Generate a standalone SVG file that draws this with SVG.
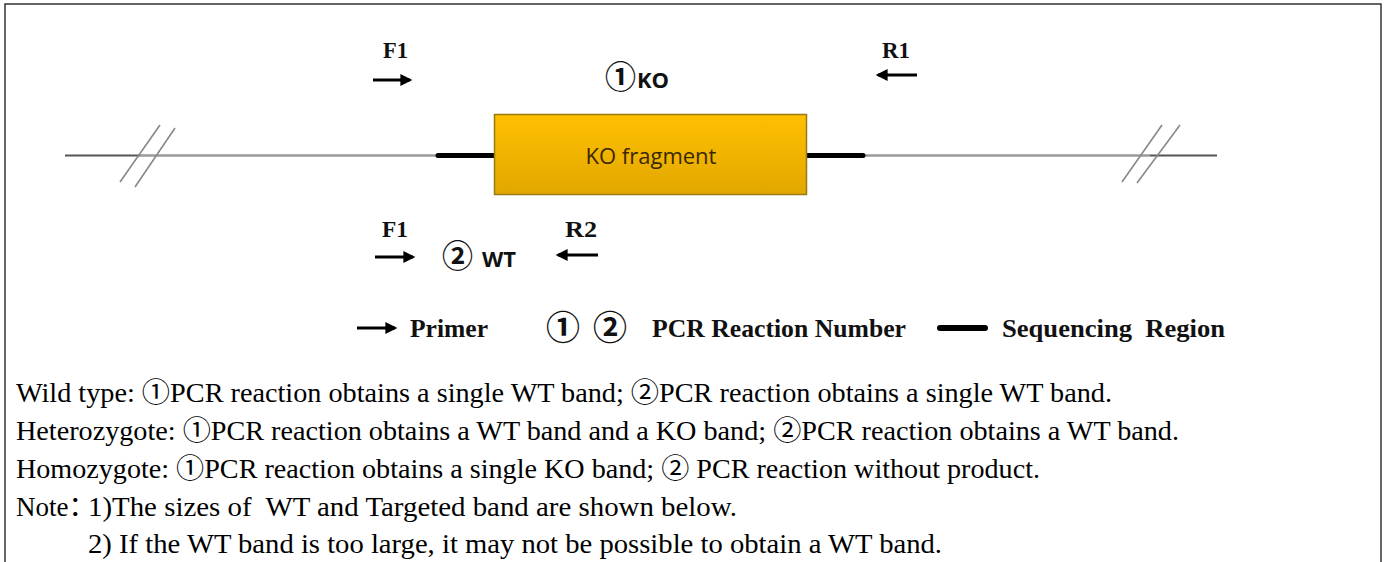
<svg xmlns="http://www.w3.org/2000/svg" width="1387" height="562" viewBox="0 0 1387 562">
<defs>
<style>
.lbl{font-family:"Liberation Serif","Times New Roman",serif;font-weight:bold;font-size:23px;fill:#111}
.leg{font-family:"Liberation Serif","Times New Roman",serif;font-weight:bold;font-size:25px;fill:#111}
.sans{font-family:"Open Sans","Noto Sans",sans-serif;font-weight:bold;fill:#111}
.circ{font-family:"Noto Sans CJK SC","Noto Sans CJK JP",sans-serif;font-weight:bold;fill:#111}
.body{font-family:"Liberation Serif","Times New Roman","Noto Sans CJK SC",serif;font-size:27px;fill:#000}
.arrow{stroke:#000;stroke-width:3;fill:none;marker-end:url(#ah)}
</style>
<marker id="ah" viewBox="0 0 10 10" refX="8" refY="5" markerWidth="4.5" markerHeight="4" orient="auto" markerUnits="strokeWidth">
<path d="M0,0 L10,5 L0,10 z" fill="#000"/>
</marker>
<linearGradient id="og" x1="0" y1="0" x2="0" y2="1">
<stop offset="0" stop-color="#FFC000"/>
<stop offset="1" stop-color="#E2A700"/>
</linearGradient>
</defs>
<rect x="5" y="4" width="1376" height="620" fill="#fff" stroke="#333" stroke-width="1.5"/>

<g id="dna">
<line x1="65" y1="155.5" x2="140" y2="155.5" stroke="#555" stroke-width="2"/>
<line x1="140" y1="155.5" x2="438" y2="155.5" stroke="#9a9a9a" stroke-width="2.5"/>
<line x1="863" y1="155.5" x2="1150" y2="155.5" stroke="#9a9a9a" stroke-width="2.5"/>
<line x1="1150" y1="155.5" x2="1217" y2="155.5" stroke="#555" stroke-width="2"/>
<g stroke="#888" stroke-width="1.6">
<line x1="120" y1="182" x2="160" y2="125"/>
<line x1="135" y1="187" x2="175" y2="128"/>
<line x1="1122" y1="182" x2="1162" y2="125"/>
<line x1="1137" y1="183" x2="1180" y2="125"/>
</g>
<line x1="438" y1="155.5" x2="494" y2="155.5" stroke="#000" stroke-width="5" stroke-linecap="round"/>
<line x1="807" y1="155.5" x2="863" y2="155.5" stroke="#000" stroke-width="5" stroke-linecap="round"/>
</g>

<g id="ko-fragment">
<rect x="494.5" y="114.5" width="312" height="80" fill="url(#og)" stroke="#9a7a10" stroke-width="1.5"/>
<text x="651" y="164" text-anchor="middle" style="font-family:'Open Sans','Noto Sans',sans-serif;font-size:22px;fill:#3a2800">KO fragment</text>
</g>

<g id="primer-f1-top">
<text class="lbl" x="383" y="58" textLength="25" lengthAdjust="spacingAndGlyphs">F1</text>
</g>
<g id="primer-r1">
<text class="lbl" x="882" y="58" textLength="28" lengthAdjust="spacingAndGlyphs">R1</text>
</g>
<g id="reaction-1">
<text x="605" y="88"><tspan class="circ" font-size="31">①</tspan><tspan class="sans" font-size="22" dx="1">KO</tspan></text>
</g>
<g id="primer-f1-bottom">
<text class="lbl" x="382" y="237" textLength="26" lengthAdjust="spacingAndGlyphs">F1</text>
</g>
<g id="primer-r2">
<text class="lbl" x="565" y="237" textLength="32" lengthAdjust="spacingAndGlyphs">R2</text>
</g>
<g id="reaction-2">
<text x="442" y="267"><tspan class="circ" font-size="31">②</tspan><tspan class="sans" font-size="22" dx="9">WT</tspan></text>
</g>

<g id="connectors">
<line class="arrow" x1="373" y1="80" x2="410" y2="80"/>
<line class="arrow" x1="917" y1="75" x2="878" y2="75"/>
<line class="arrow" x1="375" y1="257" x2="413" y2="257"/>
<line class="arrow" x1="598" y1="255" x2="558" y2="255"/>
</g>

<g id="legend">
<line class="arrow" x1="357" y1="328" x2="395" y2="328"/>
<text class="leg" x="410" y="337" textLength="78" lengthAdjust="spacingAndGlyphs">Primer</text>
<text x="546" y="340" class="circ" font-size="34">①</text>
<text x="593" y="340" class="circ" font-size="34">②</text>
<text class="leg" x="652" y="337" textLength="254" lengthAdjust="spacingAndGlyphs">PCR Reaction Number</text>
<line x1="940" y1="328" x2="985" y2="328" stroke="#000" stroke-width="6" stroke-linecap="round"/>
<text class="leg" x="1002" y="337" textLength="223" lengthAdjust="spacingAndGlyphs" xml:space="preserve">Sequencing  Region</text>
</g>

<g id="notes">
<text class="body" x="16" y="402" textLength="1096" lengthAdjust="spacingAndGlyphs">Wild type: ①PCR reaction obtains a single WT band; ②PCR reaction obtains a single WT band.</text>
<text class="body" x="16" y="440" textLength="1163" lengthAdjust="spacingAndGlyphs">Heterozygote: ①PCR reaction obtains a WT band and a KO band; ②PCR reaction obtains a WT band.</text>
<text class="body" x="16" y="478" textLength="1024" lengthAdjust="spacingAndGlyphs">Homozygote: ①PCR reaction obtains a single KO band; ② PCR reaction without product.</text>
<text class="body" x="16" y="516">Note：</text>
<text class="body" x="88" y="516" textLength="649" lengthAdjust="spacingAndGlyphs" xml:space="preserve">1)The sizes of  WT and Targeted band are shown below.</text>
<text class="body" x="88" y="553" textLength="854" lengthAdjust="spacingAndGlyphs">2) If the WT band is too large, it may not be possible to obtain a WT band.</text>
</g>
</svg>
